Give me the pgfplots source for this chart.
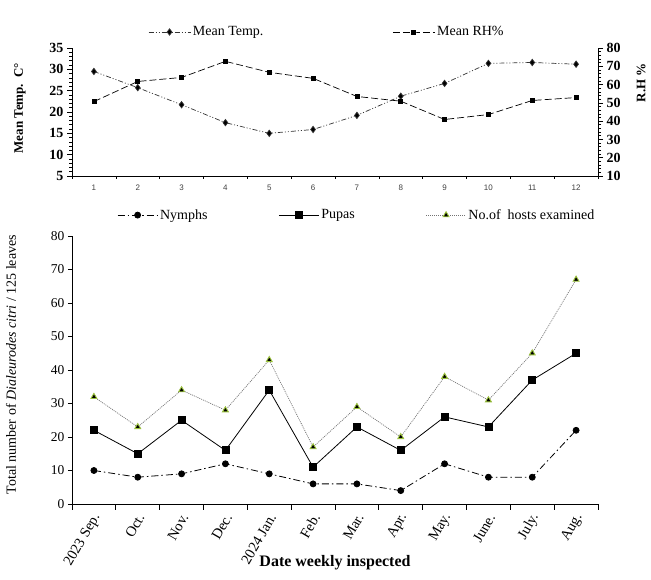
\documentclass[border=0pt]{standalone}
\usepackage{fontspec}
\setmainfont{Liberation Serif}
\newfontfamily\arialfont{Liberation Sans}
\usepackage{pgfplots}
\usepackage{pgfplotstable}
\pgfplotsset{compat=1.18}
\definecolor{hostgreen}{HTML}{9BC23C}

% Monthly climate readings (Sep. 2023 - Aug. 2024)
\pgfplotstableread{
m temp rh
1  29.5 50.7
2  25.7 61.7
3  21.7 63.9
4  17.5 72.7
5  15.0 66.7
6  15.9 63.4
7  19.2 53.5
8  23.7 50.9
9  26.7 40.9
10 31.4 43.6
11 31.6 51.3
12 31.2 52.9
}\climate

% Population counts per 125 leaves
\pgfplotstableread{
m nymphs pupas hosts
1  10 22 32
2   8 15 23
3   9 25 34
4  12 16 28
5   9 34 43
6   6 11 17
7   6 23 29
8   4 16 20
9  12 26 38
10  8 23 31
11  8 37 45
12 22 45 67
}\counts

\tikzset{
  templine/.style={black!80, line width=0.7pt, dash pattern=on 5pt off 2pt on 1pt off 2pt on 1pt off 2pt,
    mark=diamond*, mark size=3.2pt, mark options={solid, fill=black}},
  rhline/.style={black, line width=0.7pt, dash pattern=on 7pt off 3pt,
    mark=square*, mark size=2pt, mark options={solid, fill=black}},
  nymphline/.style={black, line width=0.8pt, dash pattern=on 7pt off 3pt on 1.5pt off 3pt,
    mark=*, mark size=3pt, mark options={solid, fill=black}},
  pupaline/.style={black, line width=0.8pt, mark=square*, mark size=3.5pt, mark options={solid, fill=black}},
  hostline/.style={black!55, line width=0.7pt, dash pattern=on 1pt off 1pt,
    mark=triangle*, mark size=3.4pt, mark options={solid, fill=black, draw=hostgreen, line width=0.9pt}},
}

\begin{document}
\begin{tikzpicture}
\useasboundingbox (0pt,0pt) rectangle (651pt,580pt);

% ---- climate panel, left scale: temperature ----
\begin{axis}[
  at={(72pt,404pt)}, anchor=south west,
  scale only axis, width=526pt, height=128pt,
  xmin=0.5, xmax=12.5, ymin=5, ymax=35,
  axis x line*=bottom, axis y line*=left,
  /pgf/number format/assume math mode=true,
  xtick={1,...,12},
  major x tick style={draw=none},
  minor xtick={0.5,1.5,...,12.5},
  ytick={5,10,...,35}, minor y tick num=4,
  tick align=outside, major tick length=5pt, minor tick length=3pt,
  tick style={black, line width=0.6pt},
  axis line style={line width=0.8pt},
  xticklabel style={font=\arialfont\fontsize{8}{9}\selectfont, text=black!75},
  yticklabel style={font=\bfseries\fontsize{14}{16}\selectfont},
  ylabel={Mean Temp.\ \ C°},
  ylabel style={font=\bfseries\fontsize{13}{15}\selectfont, at={(axis description cs:-0.099,0.53)}, anchor=center},
]
\addplot[templine] table[x=m, y=temp] {\climate};
\end{axis}

% ---- climate panel, right scale: relative humidity ----
\begin{axis}[
  at={(72pt,404pt)}, anchor=south west,
  scale only axis, width=526pt, height=128pt,
  xmin=0.5, xmax=12.5, ymin=10, ymax=80,
  axis x line=none, axis y line*=right,
  /pgf/number format/assume math mode=true,
  ytick={10,20,...,80}, minor y tick num=4,
  tick align=outside, major tick length=5pt, minor tick length=3pt,
  tick style={black, line width=0.6pt},
  axis line style={line width=0.8pt},
  yticklabel style={font=\bfseries\fontsize{14}{16}\selectfont},
  ylabel={R.H \%},
  ylabel style={font=\bfseries\fontsize{13}{15}\selectfont, at={(axis description cs:1.082,0.73)}, anchor=center},
  legend image code/.code={\draw[mark repeat=2,mark phase=2,#1] plot coordinates {(0pt,0pt) (21pt,0pt) (42pt,0pt)};},
  legend columns=2,
  legend style={draw=none, fill=none, inner sep=0pt, at={(axis description cs:0.1445,1.125)}, anchor=west,
    font=\fontsize{14}{16}\selectfont,
    /tikz/every even column/.append style={column sep=127pt}},
]
\addlegendimage{templine}
\addlegendentry{Mean Temp.}
\addplot[rhline] table[x=m, y=rh] {\climate};
\addlegendentry{Mean RH\%}
\end{axis}

% ---- population panel ----
\begin{axis}[
  at={(72pt,76pt)}, anchor=south west,
  scale only axis, width=526pt, height=268pt,
  xmin=0.5, xmax=12.5, ymin=0, ymax=80,
  axis x line*=bottom, axis y line*=left,
  /pgf/number format/assume math mode=true,
  xtick={1,...,12},
  xticklabels={2023 Sep., Oct., Nov., Dec., 2024 Jan., Feb., Mar., Apr., May., June., July., Aug.},
  major x tick style={draw=none},
  minor xtick={0.5,1.5,...,12.5},
  ytick={0,10,...,80},
  tick align=outside, major tick length=4pt, minor tick length=6pt,
  tick style={black, line width=0.7pt},
  axis line style={line width=0.8pt},
  xticklabel style={xshift=5pt, yshift=-4pt, rotate=60, anchor=east, font=\fontsize{14.5}{16}\selectfont},
  yticklabel style={font=\fontsize{13.5}{15}\selectfont},
  xlabel={Date weekly inspected},
  xlabel style={font=\bfseries\fontsize{16}{18}\selectfont, at={(axis description cs:0.5,-0.22)}, anchor=center},
  ylabel={Total number of \textit{Dialeurodes citri} / 125 leaves},
  ylabel style={font=\fontsize{14}{16}\selectfont, at={(axis description cs:-0.116,0.52)}, anchor=center},
  legend image code/.code={\draw[mark repeat=2,mark phase=2,#1] plot coordinates {(0pt,0pt) (20pt,0pt) (40pt,0pt)};},
  legend columns=3,
  legend style={draw=none, fill=none, inner sep=0pt, at={(axis description cs:0.0856,1.078)}, anchor=west,
    font=\fontsize{14}{16}\selectfont,
    /tikz/every even column/.append style={column sep=69pt}},
]
\addplot[nymphline] table[x=m, y=nymphs] {\counts};
\addlegendentry{Nymphs}
\addplot[pupaline] table[x=m, y=pupas] {\counts};
\addlegendentry{Pupas}
\addplot[hostline] table[x=m, y=hosts] {\counts};
\addlegendentry{No.of\ \ hosts examined}
\end{axis}
\end{tikzpicture}
\end{document}
